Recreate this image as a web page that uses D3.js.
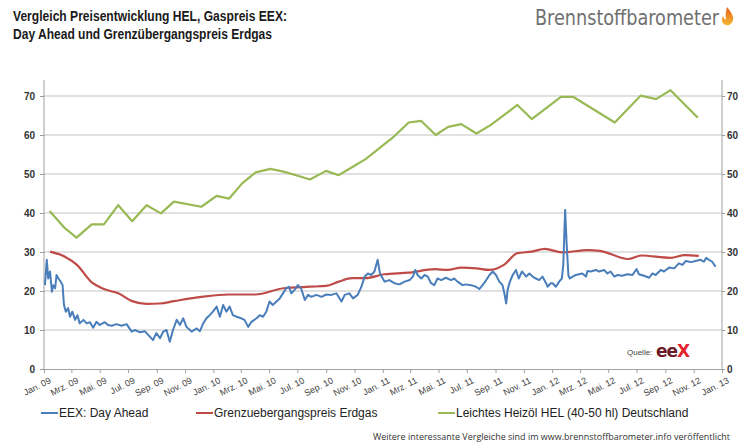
<!DOCTYPE html>
<html>
<head>
<meta charset="utf-8">
<script src="https://cdn.jsdelivr.net/npm/d3@7"></script>
<style>
  body { margin: 0; background: #fff; }
  svg { display: block; font-family: "Liberation Sans", Arial, sans-serif; }
</style>
</head>
<body>
<div id="chart"></div>
<script>
// month labels used on the x axis (German abbreviations as in the source)
const MONTH_ABBR = ['Jan.', 'Feb.', 'Mrz.', 'Apr.', 'Mai.', 'Jun.',
  'Jul.', 'Aug.', 'Sep.', 'Okt.', 'Nov.', 'Dez.'];

const Y_TICKS = [0, 10, 20, 30, 40, 50, 60, 70];

const SERIES_NAMES = [
  'EEX: Day Ahead',
  'Grenzuebergangspreis Erdgas',
  'Leichtes Heizöl HEL (40-50 hl) Deutschland',
];

// EEX day ahead (roughly weekly)
const eexDates = [
  '2009-01-03','2009-01-07','2009-01-10','2009-01-14','2009-01-18','2009-01-21','2009-01-25','2009-01-28',
  '2009-02-01','2009-02-06','2009-02-10','2009-02-13','2009-02-17','2009-02-22','2009-02-26','2009-03-03',
  '2009-03-09','2009-03-14','2009-03-19','2009-03-27','2009-04-03','2009-04-10','2009-04-17','2009-04-24',
  '2009-05-01','2009-05-12','2009-05-19','2009-05-27','2009-06-06','2009-06-17','2009-06-28','2009-07-09',
  '2009-07-16','2009-07-27','2009-08-06','2009-08-17','2009-08-24','2009-08-31','2009-09-08','2009-09-15',
  '2009-09-22','2009-09-29','2009-10-06','2009-10-14','2009-10-21','2009-10-28','2009-11-04','2009-11-15',
  '2009-11-26','2009-12-03','2009-12-10','2009-12-17','2009-12-24','2009-12-31','2010-01-08','2010-01-15',
  '2010-01-22','2010-01-29','2010-02-05','2010-02-12','2010-02-20','2010-03-02','2010-03-09','2010-03-17',
  '2010-03-24','2010-04-04','2010-04-11','2010-04-18','2010-04-25','2010-05-02','2010-05-09','2010-05-17',
  '2010-05-24','2010-05-31','2010-06-07','2010-06-13','2010-06-18','2010-06-25','2010-07-02','2010-07-09',
  '2010-07-17','2010-07-24','2010-07-31','2010-08-11','2010-08-22','2010-09-01','2010-09-12','2010-09-23',
  '2010-10-04','2010-10-11','2010-10-21','2010-10-29','2010-11-08','2010-11-16','2010-11-23','2010-11-30',
  '2010-12-07','2010-12-14','2010-12-21','2010-12-26','2011-01-01','2011-01-05','2011-01-15','2011-01-26',
  '2011-02-06','2011-02-17','2011-02-28','2011-03-07','2011-03-12','2011-03-17','2011-03-25','2011-04-01',
  '2011-04-08','2011-04-15','2011-04-22','2011-04-29','2011-05-07','2011-05-17','2011-05-28','2011-06-04',
  '2011-06-11','2011-06-22','2011-06-29','2011-07-10','2011-07-21','2011-07-28','2011-08-04','2011-08-12',
  '2011-08-19','2011-08-26','2011-09-02','2011-09-09','2011-09-16','2011-09-20','2011-09-24','2011-09-27',
  '2011-10-02','2011-10-08','2011-10-15','2011-10-21','2011-10-28','2011-11-06','2011-11-13','2011-11-20',
  '2011-11-27','2011-12-04','2011-12-11','2011-12-19','2011-12-22','2011-12-29','2012-01-02','2012-01-09',
  '2012-01-16','2012-01-22','2012-01-25','2012-01-29','2012-02-01','2012-02-05','2012-02-08','2012-02-14',
  '2012-02-21','2012-02-28','2012-03-06','2012-03-14','2012-03-17','2012-03-24','2012-04-04','2012-04-11',
  '2012-04-22','2012-04-29','2012-05-06','2012-05-14','2012-05-21','2012-05-31','2012-06-11','2012-06-22',
  '2012-07-01','2012-07-06','2012-07-17','2012-07-28','2012-08-04','2012-08-11','2012-08-22','2012-08-29',
  '2012-09-09','2012-09-20','2012-09-30','2012-10-08','2012-10-15','2012-10-26','2012-11-05','2012-11-16',
  '2012-11-23','2012-11-28','2012-12-04','2012-12-11','2012-12-18',
];
const eexValues = [
  21.5, 28, 23.2, 25, 19.8, 21.5, 20.7, 24.1,
  23.2, 22.4, 21.5, 16.4, 14.7, 15.6, 13.4, 14.7,
  12.6, 13.8, 11.7, 12.6, 11.7, 12, 10.6, 12.1,
  11.3, 12, 11.3, 11.1, 11.5, 11.1, 11.5, 9.6,
  10, 9.4, 9.7, 8.3, 7.4, 9.2, 7.9, 9.6,
  10, 7, 10, 12.6, 11.3, 13, 10.8, 9.6,
  10.4, 9.7, 11.7, 13, 13.8, 14.7, 16, 13.4,
  16.4, 14.7, 16, 13.8, 13.4, 13, 12.6, 10.8,
  12.1, 13, 13.8, 13.4, 14.7, 17.3, 16.4, 17.3,
  18.1, 19.4, 20.7, 21.1, 19.4, 20.3, 21.5, 20.7,
  17.7, 19, 18.5, 19, 18.5, 19.1, 19, 19.4,
  17.3, 19, 19.4, 18.1, 19, 21.1, 23.7, 24.5,
  24.1, 25, 28, 24.5, 23.2, 22.4, 22.8, 22,
  21.7, 22.4, 22.8, 23.7, 25.4, 24.1, 23.2, 24.1,
  23.7, 22, 21.5, 23.2, 22.8, 23.4, 22.8, 23.2,
  22.4, 21.5, 21.7, 21.5, 21.1, 20.5, 21.5, 22.8,
  24.1, 25, 24.1, 22.4, 21.5, 19.4, 16.8, 20.3,
  22.4, 24.1, 25.4, 23.2, 25, 23.7, 24.5, 23.7,
  23.2, 22.8, 23.7, 22, 21.1, 22, 22, 21.1,
  22.4, 23.2, 26.7, 40.8, 32.6, 24.1, 23.2, 23.7,
  24.1, 24.3, 24.5, 23.7, 25.1, 25, 25.4, 25,
  25.4, 24.5, 25, 23.7, 24.1, 23.9, 24.3, 24.1,
  25.6, 24.3, 23.9, 23.4, 24.5, 24.1, 25.4, 25,
  26, 25.8, 27.1, 26.7, 27.7, 27.4, 27.7, 28,
  27.5, 28.5, 28, 27.5, 26.2,
];

// Grenzuebergangspreis Erdgas (monthly)
const borderDates = [
  '2009-01-14','2009-02-15','2009-03-13','2009-04-14','2009-05-10','2009-06-10','2009-07-10','2009-08-10',
  '2009-09-08','2009-10-08','2009-12-06','2010-02-04','2010-04-01','2010-06-01','2010-07-28','2010-09-01',
  '2010-09-28','2010-10-27','2010-11-25','2011-01-04','2011-02-26','2011-04-23','2011-05-21','2011-06-19',
  '2011-07-22','2011-08-19','2011-09-19','2011-10-18','2011-11-18','2011-12-16','2012-01-22','2012-03-18',
  '2012-04-13','2012-06-13','2012-07-11','2012-09-12','2012-10-13','2012-11-12',
];
const borderValues = [
  30.1, 28.8, 26.7, 22.2, 20.5, 19.4, 17.4, 16.7,
  16.8, 17.4, 18.5, 19.1, 19.1, 20.7, 21.1, 21.3,
  22.4, 23.3, 23.3, 24.3, 24.7, 25.6, 25.4, 26.0,
  25.8, 25.4, 26.7, 29.7, 30.1, 30.8, 29.9, 30.5,
  30.3, 28.2, 29.1, 28.5, 29.2, 29.0,
];

// Leichtes Heizoel HEL (monthly)
const helDates = [
  '2009-01-13','2009-02-15','2009-03-12','2009-04-14','2009-05-10','2009-06-10','2009-07-10','2009-08-10',
  '2009-09-10','2009-10-08','2009-12-06','2010-01-08','2010-02-04','2010-03-04','2010-04-02','2010-05-04',
  '2010-06-01','2010-06-30','2010-07-28','2010-09-01','2010-09-28','2010-10-25','2010-11-25','2011-01-25',
  '2011-02-26','2011-03-25','2011-04-25','2011-05-22','2011-06-19','2011-07-22','2011-08-22','2011-09-19',
  '2011-10-18','2011-11-18','2012-01-20','2012-02-15','2012-05-15','2012-07-10','2012-08-12','2012-09-12',
  '2012-11-10',
];
const helValues = [
  40.5, 36.1, 33.7, 37.1, 37.1, 42.0, 37.9, 42.0,
  39.9, 42.9, 41.6, 44.4, 43.7, 47.6, 50.4, 51.3,
  50.6, 49.6, 48.6, 50.8, 49.7, 51.6, 53.8, 59.6,
  63.2, 63.6, 60.0, 62.1, 62.8, 60.4, 62.6, 65.1,
  67.7, 64.1, 69.8, 69.8, 63.2, 70.1, 69.2, 71.5,
  64.4,
];

const COLORS = ['#4a7ebb', '#be4b48', '#98b954'];

const width = 740;
const height = 448;
const margins = { left: 44, right: 18, top: 80, bottom: 79 };

const parse = d3.timeParse('%Y-%m-%d');
const zip = (dates, values) => dates.map((d, i) => ({ date: parse(d), value: values[i] }));

const series = [
  zip(eexDates, eexValues),
  zip(borderDates, borderValues),
  zip(helDates, helValues),
];

const svg = d3.select('#chart')
  .append('svg')
    .attr('width', width)
    .attr('height', height);

const xScale = d3.scaleTime()
  .domain([new Date(2009, 0, 1), new Date(2013, 0, 1)])
  .range([margins.left, width - margins.right]);

const yScale = d3.scaleLinear()
  .domain([0, 70])
  .range([369, 96]);

const plotTop = margins.top;

// title
const title = svg.append('g')
  .attr('font-weight', 'bold')
  .attr('font-size', 14.5)
  .attr('fill', '#1a1a1a');
title.append('text')
  .attr('x', 13).attr('y', 21)
  .attr('textLength', 274).attr('lengthAdjust', 'spacingAndGlyphs')
  .text('Vergleich Preisentwicklung HEL, Gaspreis EEX:');
title.append('text')
  .attr('x', 13).attr('y', 39)
  .attr('textLength', 259).attr('lengthAdjust', 'spacingAndGlyphs')
  .text('Day Ahead und Grenzübergangspreis Erdgas');

// brand logo
svg.append('text')
  .attr('x', 535).attr('y', 25)
  .attr('font-family', '"Liberation Sans Narrow", "DejaVu Sans Condensed", sans-serif')
  .attr('font-size', 21)
  .attr('fill', '#707070')
  .attr('textLength', 184).attr('lengthAdjust', 'spacingAndGlyphs')
  .text('Brennstoffbarometer');

const grad = svg.append('defs').append('linearGradient')
  .attr('id', 'flame').attr('x1', 0).attr('y1', 1).attr('x2', 0).attr('y2', 0);
grad.append('stop').attr('offset', '0%').attr('stop-color', '#f7b733');
grad.append('stop').attr('offset', '100%').attr('stop-color', '#e8601c');

svg.append('path')
  .attr('d', 'M727,7 C731,12 734,16 733,20 C732,24 729,26 726,25 C722,24 721,20 723,16 C724,19 725,20 726,19 C725,15 726,11 727,7 Z')
  .attr('fill', 'url(#flame)');

// grid lines
svg.append('g')
  .selectAll('line')
  .data(Y_TICKS.filter(d => d > 0))
  .join('line')
    .attr('x1', xScale.range()[0])
    .attr('x2', xScale.range()[1])
    .attr('y1', d => yScale(d))
    .attr('y2', d => yScale(d))
    .attr('stroke', '#c4c4c4')
    .attr('stroke-width', 1.2);

// axes
const yAxisLeft = d3.axisLeft(yScale).tickValues(Y_TICKS).tickSize(4).tickPadding(5);
const yAxisRight = d3.axisRight(yScale).tickValues(Y_TICKS).tickSize(3).tickPadding(2);

const styleAxis = g => {
  g.select('.domain').remove();
  g.selectAll('line').attr('stroke', '#999');
  g.selectAll('text')
    .attr('font-size', 10)
    .attr('font-weight', 'bold')
    .attr('fill', '#333')
    .attr('font-family', '"Liberation Sans", Arial, sans-serif');
};

svg.append('g')
  .attr('transform', 'translate(' + margins.left + ',0)')
  .call(yAxisLeft)
  .call(styleAxis);

svg.append('g')
  .attr('transform', 'translate(' + (width - margins.right) + ',0)')
  .call(yAxisRight)
  .call(styleAxis);

// vertical axis lines
[margins.left, width - margins.right].forEach(x => {
  svg.append('line')
    .attr('x1', x).attr('x2', x)
    .attr('y1', plotTop).attr('y2', yScale(0))
    .attr('stroke', '#a0a0a0');
});

const fmtMonth = d => MONTH_ABBR[d.getMonth()] + ' ' + d3.timeFormat('%y')(d);

const xAxis = d3.axisBottom(xScale)
  .ticks(d3.timeMonth.every(2))
  .tickSize(4)
  .tickFormat(fmtMonth);

svg.append('g')
  .attr('transform', 'translate(0,' + yScale(0) + ')')
  .call(xAxis)
  .call(g => {
    g.select('.domain').attr('stroke', '#a0a0a0');
    g.selectAll('line').attr('stroke', '#a0a0a0');
    g.selectAll('text')
      .attr('font-size', 9)
      .attr('fill', '#444')
      .attr('font-family', '"Liberation Sans", Arial, sans-serif')
      .attr('text-anchor', 'end')
      .attr('transform', 'translate(3,5) rotate(-27)')
      .attr('dy', '0.6em')
      .attr('y', 4);
  });

// series lines
const line = d3.line()
  .x(d => xScale(d.date))
  .y(d => yScale(d.value));

svg.append('path')
  .datum(series[2])
  .attr('fill', 'none')
  .attr('stroke', COLORS[2])
  .attr('stroke-width', 2.2)
  .attr('stroke-linejoin', 'round')
  .attr('d', line);

svg.append('path')
  .datum(series[1])
  .attr('fill', 'none')
  .attr('stroke', COLORS[1])
  .attr('stroke-width', 2.2)
  .attr('d', line.curve(d3.curveMonotoneX));

svg.append('path')
  .datum(series[0])
  .attr('fill', 'none')
  .attr('stroke', COLORS[0])
  .attr('stroke-width', 2)
  .attr('stroke-linejoin', 'round')
  .attr('d', line.curve(d3.curveLinear));

// source badge
svg.append('text')
  .attr('x', 627).attr('y', 355)
  .attr('font-size', 8)
  .attr('fill', '#444')
  .text('Quelle:');
const eex = svg.append('text')
  .attr('x', 656).attr('y', 357)
  .attr('font-size', 17)
  .attr('font-weight', 'bold')
  .attr('font-family', '"DejaVu Sans", sans-serif')
  .attr('letter-spacing', -1);
eex.append('tspan').attr('fill', '#6b1b27').text('ee');
eex.append('tspan').attr('fill', '#e3232b').text('X');

// legend
const legendX = [41, 196, 438];
const legend = svg.append('g')
  .selectAll('g')
  .data(SERIES_NAMES)
  .join('g')
    .attr('transform', (d, i) => 'translate(' + legendX[i] + ',413)');

legend.append('line')
  .attr('x1', 0).attr('x2', 17)
  .attr('stroke', (d, i) => COLORS[i])
  .attr('stroke-width', 2);

legend.append('text')
  .attr('x', 18)
  .attr('dy', '0.35em')
  .attr('font-size', 12)
  .attr('fill', '#222')
  .text(d => d);

// footer
svg.append('text')
  .attr('x', 373).attr('y', 440)
  .attr('font-size', 8.5)
  .attr('font-family', '"Open Sans", sans-serif')
  .attr('fill', '#333')
  .attr('textLength', 357).attr('lengthAdjust', 'spacingAndGlyphs')
  .text('Weitere  interessante Vergleiche sind im www.brennstoffbarometer.info  veröffentlicht');
</script>
</body>
</html>
